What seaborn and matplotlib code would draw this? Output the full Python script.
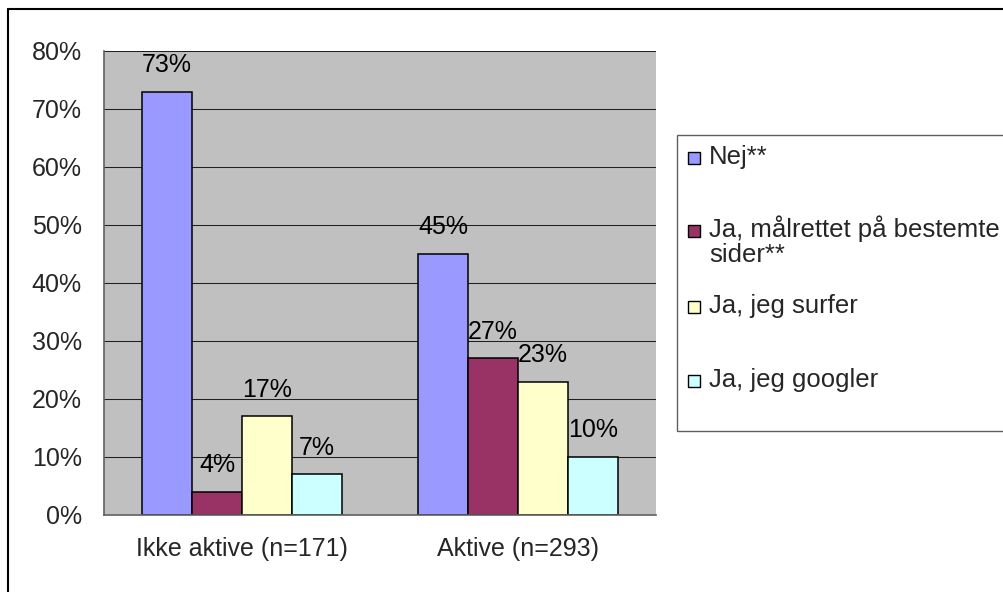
import matplotlib
matplotlib.use("Agg")
import matplotlib.pyplot as plt
from matplotlib.patches import Rectangle
from matplotlib.lines import Line2D
import seaborn as sns
import pandas as pd

categories = ["Ikke aktive (n=171)", "Aktive (n=293)"]
series = ["Nej**", "Ja, målrettet på bestemte\nsider**", "Ja, jeg surfer", "Ja, jeg googler"]
values_ikke = [73, 4, 17, 7]
values_aktive = [45, 27, 23, 10]
colors = ["#9999FF", "#993366", "#FFFFCC", "#CCFFFF"]
yticks = [0, 10, 20, 30, 40, 50, 60, 70, 80]

rows = []
for s, a, b in zip(series, values_ikke, values_aktive):
    rows.append({"group": categories[0], "series": s, "value": a})
    rows.append({"group": categories[1], "series": s, "value": b})
df = pd.DataFrame(rows)

sns.set_theme(style="white")
plt.rcParams["font.family"] = ["Liberation Sans", "DejaVu Sans"]
FS = 18
FS_LEG = 18.5

W, H = 1004, 592
fig = plt.figure(figsize=(W / 100, H / 100), dpi=100)
fig.patch.set_facecolor("white")
ax = fig.add_axes([104 / W, 1 - 515 / H, (656 - 104) / W, (515 - 51) / H])
ax.set_facecolor("#C0C0C0")

sns.barplot(data=df, x="group", y="value", hue="series", order=categories,
            hue_order=series, palette=colors, saturation=1, width=0.725,
            edgecolor="black", linewidth=1.1, legend=False, ax=ax, zorder=3)

ax.set_ylim(0, 80)
ax.set_xlim(-0.5, 1.5)
ax.set_yticks(yticks)
ax.set_yticklabels([f"{v}%" for v in yticks], fontsize=FS)
ax.yaxis.grid(True, color="#202020", linewidth=0.75, zorder=1)
ax.set_axisbelow(True)

ax.set_xticks([-0.5, 0.5, 1.5])
ax.set_xticklabels([])
ax.set_xticks([0, 1], minor=True)
ax.set_xticklabels(categories, minor=True, fontsize=FS)
ax.tick_params(axis="x", which="major", length=6, width=1, color="#606060", direction="out")
ax.tick_params(axis="x", which="minor", length=0, pad=16)
ax.tick_params(axis="y", which="major", length=6, width=1, color="#606060", direction="out", pad=10)
ax.set_xlabel("")
ax.set_ylabel("")

for side in ["top", "right"]:
    ax.spines[side].set_visible(False)
for side in ["left", "bottom"]:
    ax.spines[side].set_color("#606060")
    ax.spines[side].set_linewidth(1.2)
    ax.spines[side].set_zorder(4)

for cont in ax.containers:
    ax.bar_label(cont, fmt="%g%%", padding=10.5, fontsize=FS, color="black")

# Legend drawn in figure pixel coordinates (Excel-style, clipped at right edge)
def fx(x):
    return x / W

def fy(y):
    return 1 - y / H

fig.add_artist(Rectangle((fx(677), fy(431)), fx(1100) - fx(677), fy(135) - fy(431),
                         transform=fig.transFigure, fill=True, facecolor="white",
                         edgecolor="#606060", linewidth=1.0, clip_on=False))
marker_base = [164, 237, 313, 387]
text_base = [164, 262, 313, 387]
for lab, col, yb, tb in zip(series, colors, marker_base, text_base):
    fig.add_artist(Rectangle((fx(688), fy(yb)), fx(700) - fx(688), fy(yb - 12) - fy(yb),
                             transform=fig.transFigure, facecolor=col,
                             edgecolor="black", linewidth=1.0))
    fig.text(fx(709), fy(tb), lab, fontsize=FS_LEG, va="baseline", ha="left",
             linespacing=1.05)

# figure border (top and left visible)
fig.add_artist(Line2D([fx(8), fx(1004)], [fy(9), fy(9)], color="black", linewidth=1.5,
                      transform=fig.transFigure))
fig.add_artist(Line2D([fx(8), fx(8)], [fy(9), fy(592)], color="black", linewidth=1.5,
                      transform=fig.transFigure))

fig.savefig("out.png", dpi=100, facecolor="white")
